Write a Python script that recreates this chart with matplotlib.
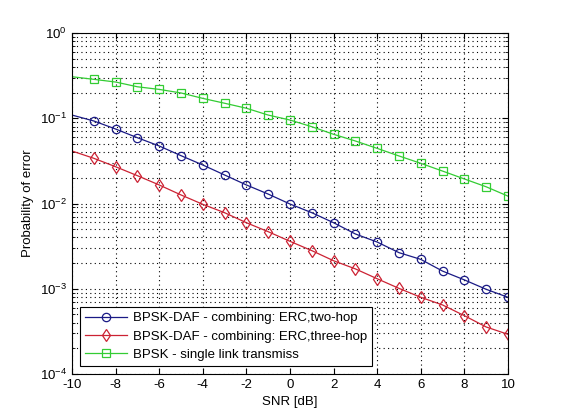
import numpy as np
import matplotlib
matplotlib.use('Agg')
import matplotlib.pyplot as plt
from matplotlib.ticker import LogLocator, NullFormatter

plt.rcParams['font.family'] = ['Liberation Sans', 'DejaVu Sans']
plt.rcParams['axes.unicode_minus'] = False

snr = list(range(-10, 11))

# values
pe_two_hop = [0.109, 0.0929, 0.0748, 0.0591, 0.0473, 0.0364, 0.0283, 0.0216, 0.0165,
              0.0129, 0.00986, 0.0078, 0.00595, 0.00439, 0.00353, 0.00265, 0.00221,
              0.00161, 0.00127, 0.000985, 0.000794]
pe_three_hop = [0.0413, 0.0339, 0.0270, 0.0212, 0.0165, 0.0126, 0.00978, 0.0078, 0.00595,
                0.00467, 0.00360, 0.0028, 0.00213, 0.00171, 0.00131, 0.00101, 0.000794,
                0.000645, 0.000483, 0.000356, 0.000292]
pe_single = [0.307, 0.286, 0.266, 0.234, 0.218, 0.198, 0.171, 0.150, 0.131, 0.109,
             0.0953, 0.0796, 0.0648, 0.0541, 0.0443, 0.0361, 0.0296, 0.0240, 0.0194,
             0.0157, 0.0122]

labels = ['BPSK-DAF - combining: ERC,two-hop',
          'BPSK-DAF - combining: ERC,three-hop',
          'BPSK - single link transmiss']

fig = plt.figure(figsize=(5.61, 4.2), dpi=100)
ax = fig.add_axes([72 / 561, 1 - 374 / 420, 436 / 561, 341 / 420])

mk = dict(markevery=range(1, 21), markersize=6, markerfacecolor='none', linewidth=0.9,
          markeredgewidth=0.9)
ax.semilogy(snr, pe_two_hop, color='#1a1a85', marker='o', label=labels[0], **mk)
ax.semilogy(snr, pe_three_hop, color='#cc2233', marker='d', label=labels[1], **mk)
ax.semilogy(snr, pe_single, color='#33cc33', marker='s', label=labels[2], **mk)

ax.set_xlim(-10, 10)
ax.set_ylim(1e-4, 1)
ax.set_xticks(range(-10, 11, 2))
ax.yaxis.set_major_locator(LogLocator(base=10, numticks=10))
ax.yaxis.set_minor_locator(LogLocator(base=10, subs=np.arange(2, 10), numticks=10))
ax.yaxis.set_minor_formatter(NullFormatter())

dots = (0, (1, 3))
ax.grid(True, which='major', color='black', linestyle=dots, linewidth=0.8)
ax.grid(True, which='minor', axis='y', color='black', linestyle=dots, linewidth=0.8)
ax.tick_params(which='both', direction='in', top=True, right=True, labelsize=9.5)
ax.tick_params(which='major', length=4)
ax.tick_params(which='minor', length=2)
for s in ax.spines.values():
    s.set_linewidth(0.8)

ax.set_xlabel('SNR [dB]', fontsize=9.5)
ax.set_ylabel('Probability of error', fontsize=9.5)

leg = ax.legend(loc='lower left', fontsize=9.5, fancybox=False, framealpha=1,
                edgecolor='black', handlelength=3.2, borderaxespad=0.6,
                labelspacing=0.45, borderpad=0.4, handletextpad=0.4)
leg.get_frame().set_linewidth(0.8)

fig.savefig('out.png', dpi=100)
